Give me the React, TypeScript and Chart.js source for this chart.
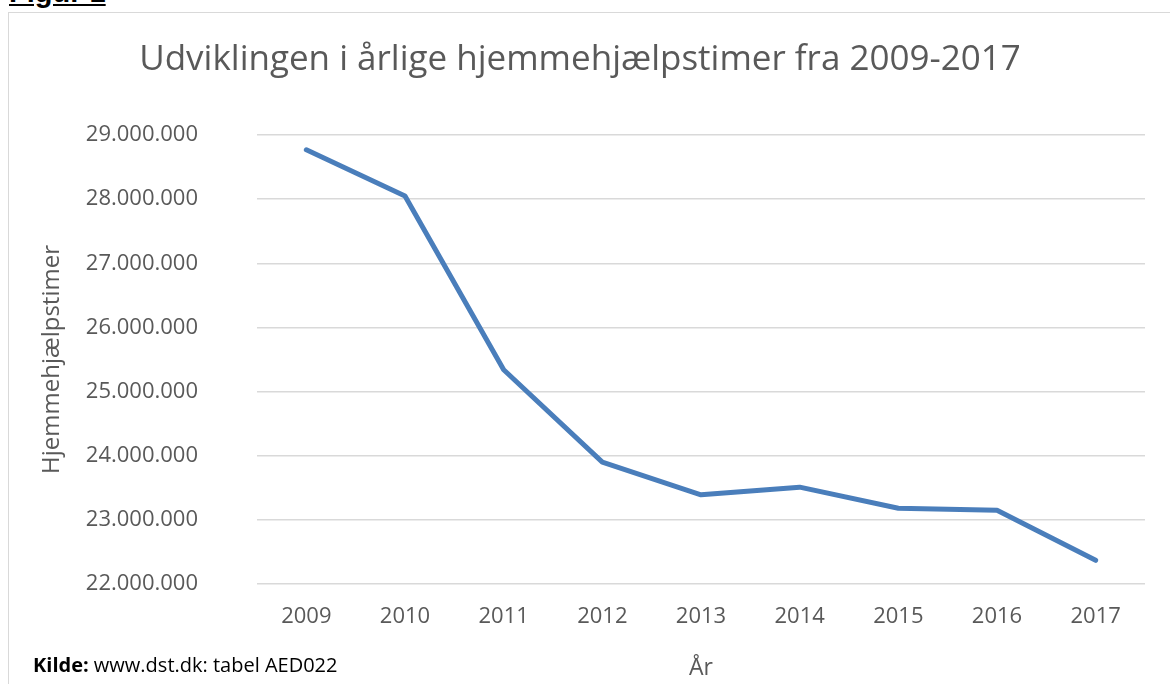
import React, { useEffect, useRef } from "react";
import { Chart, registerables } from "chart.js";

Chart.register(...registerables);

const years = ["2009", "2010", "2011", "2012", "2013", "2014", "2015", "2016", "2017"];
const hours = [28770000, 28050000, 25340000, 23900000, 23390000, 23510000, 23180000, 23150000, 22370000];
const yMin = 22000000;
const yMax = 29000000;
const yStep = 1000000;

const FONT = "'Open Sans', 'DejaVu Sans', sans-serif";
const GRAY = "#595959";

function fmt(v: number): string {
  return Math.round(v).toString().replace(/\B(?=(\d{3})+(?!\d))/g, ".");
}

export default function App() {
  const ref = useRef<HTMLCanvasElement | null>(null);

  useEffect(() => {
    if (!ref.current) return;
    const chart = new Chart(ref.current, {
      type: "line",
      data: {
        labels: years,
        datasets: [
          {
            data: hours,
            borderColor: "#4A7EBB",
            backgroundColor: "#4A7EBB",
            borderWidth: 5,
            pointRadius: 0,
            borderCapStyle: "round",
            borderJoinStyle: "round",
            tension: 0,
          },
        ],
      },
      options: {
        animation: false,
        responsive: false,
        maintainAspectRatio: false,
        layout: { padding: { left: 15, right: 25, top: 12, bottom: 0 } },
        plugins: {
          legend: { display: false },
          tooltip: { enabled: false },
          title: {
            display: true,
            text: "Udviklingen i årlige hjemmehjælpstimer fra 2009-2017",
            color: GRAY,
            font: { family: FONT, size: 35, weight: "normal", lineHeight: 1.2 },
            padding: { top: 27, bottom: 54 },
          },
        },
        scales: {
          x: {
            offset: true,
            grid: { display: false, drawTicks: false },
            border: { display: false },
            ticks: { color: GRAY, font: { family: FONT, size: 22 }, padding: 20 },
            title: {
              display: true,
              text: "År",
              color: GRAY,
              font: { family: FONT, size: 23 },
              padding: { top: 0, bottom: 2 },
            },
            afterFit: (s: any) => {
              s.height = 100;
            },
          },
          y: {
            min: yMin,
            max: yMax,
            grid: { color: "#D9D9D9", lineWidth: 1.5, drawTicks: false },
            border: { display: false },
            ticks: {
              stepSize: yStep,
              color: GRAY,
              font: { family: FONT, size: 22 },
              padding: 59,
              callback: (v: any) => fmt(Number(v)),
            },
            title: {
              display: true,
              text: "Hjemmehjælpstimer",
              color: GRAY,
              font: { family: FONT, size: 24 },
              padding: { top: 23, bottom: 0 },
            },
            afterFit: (s: any) => {
              s.width = 242;
            },
          },
        },
      },
    });
    return () => chart.destroy();
  }, []);

  return (
    <div style={{ position: "fixed", left: 0, top: 0, width: 1170, height: 684, background: "#fff", overflow: "hidden" }}>
      <div
        style={{
          position: "absolute",
          left: 8,
          top: 12,
          width: 1170,
          height: 700,
          border: "1.5px solid #D9D9D9",
          boxSizing: "border-box",
        }}
      />
      <div
        style={{
          position: "absolute",
          left: 9,
          top: -24,
          fontFamily: "'Liberation Sans', Arial, sans-serif",
          fontWeight: "bold",
          fontSize: 29,
          textDecoration: "underline",
          color: "#000",
          whiteSpace: "nowrap",
        }}
      >
        Figur 1
      </div>
      <canvas ref={ref} width={1170} height={684} style={{ position: "absolute", left: 0, top: 0 }} />
      <div
        style={{
          position: "absolute",
          left: 33,
          top: 651,
          fontFamily: FONT,
          fontSize: 20,
          color: "#000",
          whiteSpace: "nowrap",
        }}
      >
        <b>Kilde:</b> www.dst.dk: tabel AED022
      </div>
    </div>
  );
}
